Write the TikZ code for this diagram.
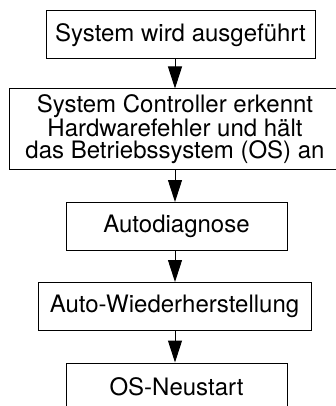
\documentclass[tikz,border=0pt]{standalone}
\usepackage{fontspec}
\setsansfont{TeX Gyre Heros}
\usetikzlibrary{arrows.meta}

\begin{document}
\begin{tikzpicture}[
  x=1pt, y=-1pt,
  every node/.style={font=\sffamily\fontsize{24}{22}\selectfont},
  stepbox/.style={draw, line width=1pt, align=center, inner sep=0pt,
                  minimum height=48},
  flow/.style={-{Triangle[length=22pt, width=14pt]}, line width=1pt}
]

\clip (0,0) rectangle (336,406);
\coordinate (axis) at (175,0);

\node[stepbox, minimum width=269] (run) at (180.5,35)
  {System wird ausgeführt};

\node[stepbox, minimum width=332, minimum height=80] (halt) at (175,129) {%
  System Controller erkennt\\
  Hardwarefehler und hält\\
  das Betriebssystem (OS) an
};

\node[stepbox, minimum width=221] (diag) at (176.5,226.5) {Autodiagnose};

\node[stepbox, minimum width=273] (recover) at (174.5,306.5)
  {Auto-Wiederherstellung};

\node[stepbox, minimum width=221] (reboot) at (176.5,387) {OS-Neustart};

\draw[flow] (run.south -| axis) -- (halt.north -| axis);
\draw[flow] (halt.south -| axis) -- (diag.north -| axis);
\draw[flow] (diag.south -| axis) -- (recover.north -| axis);
\draw[flow] (recover.south -| axis) -- (reboot.north -| axis);

\end{tikzpicture}
\end{document}
